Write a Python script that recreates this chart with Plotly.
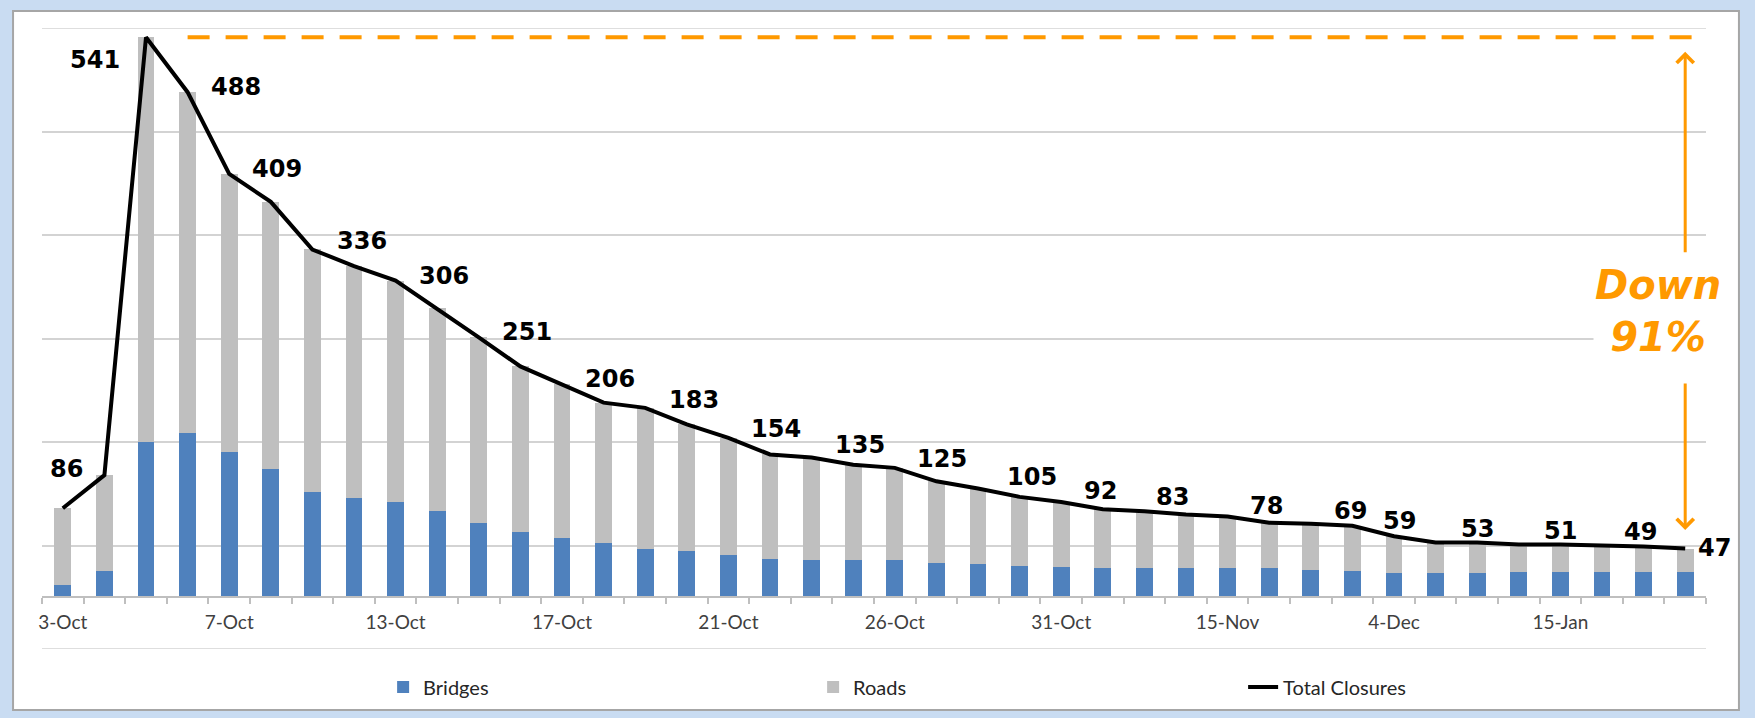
import plotly.graph_objects as go

# ---- data ----
categories = list(range(40))
tick_positions = [0, 4, 8, 12, 16, 20, 24, 28, 32, 36]
tick_labels = ["3-Oct", "7-Oct", "13-Oct", "17-Oct", "21-Oct", "26-Oct",
               "31-Oct", "15-Nov", "4-Dec", "15-Jan"]
bridges = [12, 25, 150, 159, 140, 124, 102, 96, 92, 83,
           72, 63, 57, 52, 47, 45, 41, 37, 36, 36,
           36, 33, 32, 30, 29, 28, 28, 28, 28, 28,
           26, 25, 23, 23, 23, 24, 24, 24, 24, 24]
roads = [74, 93, 391, 329, 269, 258, 234, 224, 214, 196,
         179, 160, 149, 136, 136, 122, 113, 101, 99, 92,
         89, 79, 73, 67, 63, 57, 55, 52, 50, 44,
         45, 44, 36, 30, 30, 27, 27, 26, 25, 23]
totals = [86, 118, 541, 488, 409, 382, 336, 320, 306, 279,
          251, 223, 206, 188, 183, 167, 154, 138, 135, 128,
          125, 112, 105, 97, 92, 85, 83, 80, 78, 72,
          71, 69, 59, 53, 53, 51, 51, 50, 49, 47]
labeled_points = [0, 2, 3, 4, 6, 8, 10, 12, 14, 16, 18, 20, 22, 24, 26, 28,
                  31, 32, 34, 36, 38, 39]
change_text = "Down<br>91%"

# ---- styling ----
ORANGE = "#ff9900"
GRID = "#d3d3d3"
label_shift = {0: (4, 39), 2: (-51, -23), 39: (29, 1),
               6: (50, 8), 14: (49, 8), 16: (48, 9), 18: (48, 13), 20: (47, 9),
               22: (54, 12), 24: (39, 11), 26: (28, 14), 28: (39, 11),
               31: (-2, 15), 32: (5, 15), 34: (0, 13), 36: (0, 13), 38: (-3, 15)}
default_shift = (48, 5)

fig = go.Figure()
fig.add_trace(go.Bar(x=categories, y=bridges, name="Bridges", marker_color="#4f81bd",
                     width=0.4, marker_line_width=0))
fig.add_trace(go.Bar(x=categories, y=roads, name="Roads", marker_color="#bfbfbf",
                     width=0.4, marker_line_width=0))
fig.add_trace(go.Scatter(x=categories, y=totals, name="Total Closures", mode="lines",
                         line=dict(color="black", width=4)))

annotations = []
for i in labeled_points:
    dx, dy = label_shift.get(i, default_shift)
    annotations.append(dict(x=categories[i], y=totals[i], xref="x", yref="y",
                            text="<b>%d</b>" % totals[i], showarrow=False,
                            xshift=dx, yshift=dy,
                            font=dict(family="DejaVu Sans", size=24, color="black")))

peak = max(totals)
last = totals[-1]
xa = categories[-1]
# up arrow
annotations.append(dict(x=xa, y=peak - 14, ax=xa, ay=332, xref="x", yref="y",
                        axref="x", ayref="y", showarrow=True, arrowhead=4,
                        arrowsize=1.1, arrowwidth=3, arrowcolor=ORANGE, text=""))
# down arrow
annotations.append(dict(x=xa, y=last + 18, ax=xa, ay=208, xref="x", yref="y",
                        axref="x", ayref="y", showarrow=True, arrowhead=4,
                        arrowsize=1.1, arrowwidth=3, arrowcolor=ORANGE, text=""))
annotations.append(dict(x=38.35, y=277, xref="x", yref="y", text=change_text,
                        showarrow=False, bgcolor="white",
                        font=dict(family="DejaVu Sans", size=40, color=ORANGE,
                                  weight="bold", style="italic")))

shapes = [
    dict(type="rect", xref="paper", yref="paper", x0=-0.0174, x1=1.0198,
         y0=-0.0982, y1=1.0274, fillcolor="white",
         line=dict(color="#a6a6a6", width=2), layer="below"),
    dict(type="line", xref="paper", yref="y", x0=0, x1=1, y0=550, y1=550,
         line=dict(color=GRID, width=1.5), layer="below"),
    dict(type="line", xref="paper", yref="y", x0=0, x1=1, y0=-50, y1=-50,
         line=dict(color=GRID, width=1.5), layer="below"),
    dict(type="line", xref="x", yref="y", x0=3, x1=39.86, y0=peak, y1=peak,
         line=dict(color=ORANGE, width=4, dash="22px,16px")),
]

fig.update_layout(
    width=1755, height=718,
    margin=dict(l=42, r=49, t=28, b=69),
    paper_bgcolor="#c9dcf2",
    plot_bgcolor="rgba(0,0,0,0)",
    barmode="stack",
    showlegend=True,
    legend=dict(orientation="h", x=0.205, xanchor="left", y=-0.061, yanchor="middle",
                entrywidth=385, entrywidthmode="pixels", traceorder="normal",
                font=dict(family="Lato", size=20, color="#262626"),
                bgcolor="rgba(0,0,0,0)"),
    xaxis=dict(range=[-0.5, 39.5], anchor="free", position=50 / 600,
               showline=True, linecolor="#bfbfbf", linewidth=1.5,
               tickvals=tick_positions, ticktext=tick_labels,
               ticks="outside", ticklen=8, tickcolor="rgba(0,0,0,0)",
               tickfont=dict(family="Lato", size=19, color="#404040"),
               showgrid=False, zeroline=False,
               minor=dict(tick0=-0.5, dtick=1, ticks="outside", ticklen=6,
                          tickcolor="#bfbfbf", tickwidth=1.5, showgrid=False)),
    yaxis=dict(range=[-50, 550], tick0=-50, dtick=100, showticklabels=False,
               showgrid=True, gridcolor=GRID, gridwidth=1.5, zeroline=False,
               showline=False),
    annotations=annotations,
    shapes=shapes,
)

fig.write_html("out.html", config={"displayModeBar": False},
               post_script="document.body.style.margin='0';")
